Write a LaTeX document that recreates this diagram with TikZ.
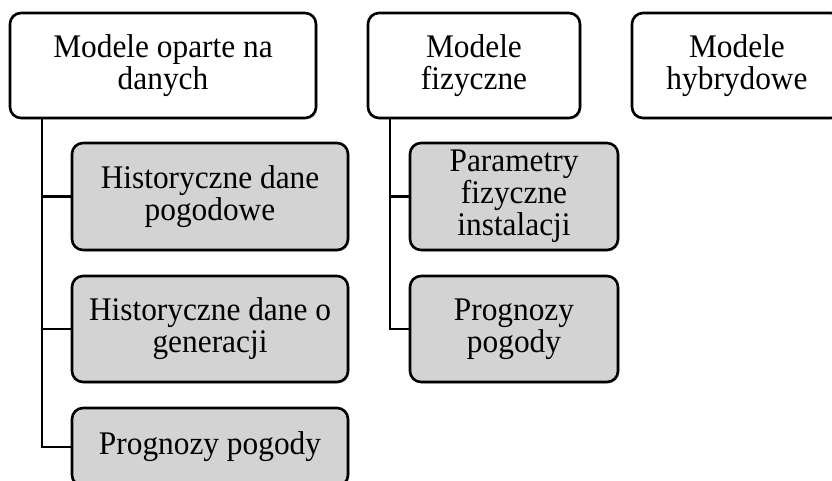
\documentclass[tikz,border=0pt]{standalone}
\usepackage{fontspec}
\setmainfont{Liberation Serif}[FakeStretch=0.95]
\usetikzlibrary{shadows}
\definecolor{childgray}{RGB}{211,211,211}
\tikzset{
  x=1pt, y=-1pt,
  basebox/.style={draw=black, line width=2.6pt, rounded corners=11pt, align=center,
    inner sep=0pt, font=\fontsize{33}{32}\selectfont,
    drop shadow={shadow xshift=1.5pt, shadow yshift=-1.5pt, opacity=0.35}},
  topbox/.style={basebox, fill=white},
  childbox/.style={basebox, fill=childgray},
  link/.style={draw=black, line width=2.6pt}
}
\begin{document}
\begin{tikzpicture}
\useasboundingbox (0,0) rectangle (832,481);
\clip (0,0) rectangle (832,481);
\fill[white] (0,0) rectangle (832,481);
% top level
\node[topbox, minimum width=306pt, minimum height=105pt] (b1) at (163,65.5) {Modele oparte na\\danych};
\node[topbox, minimum width=212pt, minimum height=105pt] (b2) at (474,65.5) {Modele\\fizyczne};
\node[topbox, minimum width=210pt, minimum height=105pt] (b3) at (737,65.5) {Modele\\hybrydowe};
% children of b1
\node[childbox, minimum width=276pt, minimum height=107pt] (c1) at (210,196.5) {Historyczne dane\\pogodowe};
\node[childbox, minimum width=276pt, minimum height=106pt] (c2) at (210,329) {Historyczne dane o\\generacji};
\node[childbox, minimum width=276pt, minimum height=78pt] (c3) at (210,447) {Prognozy pogody};
% children of b2
\node[childbox, minimum width=208pt, minimum height=107pt] (d1) at (514,196.5) {Parametry\\fizyczne\\instalacji};
\node[childbox, minimum width=208pt, minimum height=106pt] (d2) at (514,329) {Prognozy\\pogody};
% connectors
\coordinate (t1) at (42,118);
\coordinate (t2) at (390,118);
\draw[link] (t1) |- (c1.west);
\draw[link] (t1) |- (c2.west);
\draw[link] (t1) |- (c3.west);
\draw[link] (t2) |- (d1.west);
\draw[link] (t2) |- (d2.west);
\end{tikzpicture}
\end{document}
